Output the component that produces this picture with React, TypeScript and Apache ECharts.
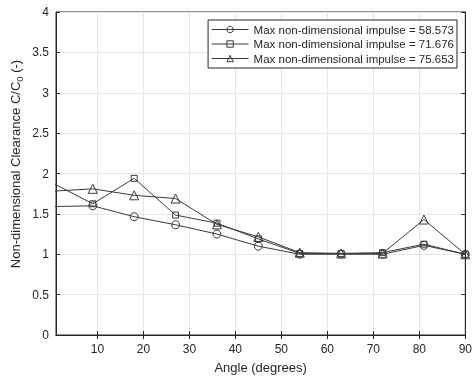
import { useEffect, useRef } from "react";
import * as echarts from "echarts";

const angles = [0, 9, 18, 27, 36, 45, 54, 63, 72, 81, 90];
const impulse58 = [1.59, 1.6, 1.465, 1.365, 1.25, 1.1, 1.0, 1.0, 1.0, 1.11, 1.0];
const impulse71 = [1.89, 1.625, 1.94, 1.485, 1.385, 1.19, 1.01, 1.01, 1.02, 1.125, 1.0];
const impulse75 = [1.78, 1.81, 1.73, 1.69, 1.37, 1.215, 1.02, 1.01, 1.01, 1.43, 1.0];
const seriesNames = [
  "Max non-dimensional impulse = 58.573",
  "Max non-dimensional impulse = 71.676",
  "Max non-dimensional impulse = 75.653",
];
const xTicks = [10, 20, 30, 40, 50, 60, 70, 80, 90];

const FONT = "'Liberation Sans', Arial, Helvetica, sans-serif";
const INK = "#262626";
const LINE = "#3a3a3a";

function pairs(ys: number[]) {
  return angles.map((x, i) => [x, ys[i]]);
}

export default function App() {
  const ref = useRef<HTMLDivElement>(null);

  useEffect(() => {
    if (!ref.current) return;
    const chart = echarts.init(ref.current, undefined, { renderer: "svg" });

    const mkSeries = (name: string, ys: number[], symbol: string, size: number) => ({
      name,
      type: "line",
      data: pairs(ys),
      xAxisIndex: 0,
      yAxisIndex: 0,
      clip: true,
      symbol,
      symbolSize: size,
      showAllSymbol: true,
      lineStyle: { color: LINE, width: 1 },
      itemStyle: { color: "rgba(255,255,255,0)", borderColor: LINE, borderWidth: 1 },
      emphasis: { disabled: true },
    });

    const triangle = "path://M0,-10 L8.66,5 L-8.66,5 Z";

    chart.setOption({
      animation: false,
      textStyle: { fontFamily: FONT, color: INK },
      grid: {
        left: 56,
        right: 8,
        top: 12,
        bottom: 48,
        show: true,
        borderColor: INK,
        borderWidth: 1,
        backgroundColor: "#fff",
      },
      legend: {
        show: true,
        right: 18,
        top: 20,
        orient: "vertical",
        backgroundColor: "#fff",
        borderColor: INK,
        borderWidth: 1,
        borderRadius: 0,
        padding: [3.5, 3, 3.5, 3],
        itemGap: 2.5,
        itemWidth: 37,
        itemHeight: 8,
        lineStyle: { width: 1, color: LINE },
        itemStyle: { borderWidth: 1, borderColor: LINE, color: "rgba(255,255,255,0)" },
        textStyle: { fontFamily: FONT, fontSize: 11.5, lineHeight: 12, color: INK },
        data: seriesNames,
      },
      graphic: [
        {
          type: "text",
          x: 15,
          y: 164,
          rotation: Math.PI / 2,
          style: {
            text: "{a|Non-dimensional Clearance C/C}{s|0}{a| (-)}",
            align: "center",
            verticalAlign: "middle",
            fill: INK,
            rich: {
              a: { fontSize: 13, fontFamily: FONT, fill: INK, lineHeight: 18, verticalAlign: "middle" },
              s: { fontSize: 9.5, fontFamily: FONT, fill: INK, lineHeight: 18, verticalAlign: "bottom", padding: [8, 0, 0, 0] },
            },
          },
        },
      ],
      xAxis: [
        {
          type: "value",
          min: 1,
          max: 90,
          position: "bottom",
          axisLine: { show: true, lineStyle: { color: INK, width: 1 } },
          axisTick: { show: true, inside: true, length: 4, customValues: xTicks, lineStyle: { color: INK } },
          axisLabel: { customValues: xTicks, color: INK, fontSize: 12, fontFamily: FONT, margin: 8 },
          splitLine: { show: true, lineStyle: { color: "#e5e5e5", width: 1 } },
          name: "Angle (degrees)",
          nameLocation: "middle",
          nameGap: 26,
          nameTextStyle: { fontSize: 13, color: INK, fontFamily: FONT },
        },
        {
          type: "value",
          min: 1,
          max: 90,
          position: "top",
          axisLine: { show: true, lineStyle: { color: INK, width: 1 } },
          axisTick: { show: true, inside: true, length: 4, customValues: xTicks, lineStyle: { color: INK } },
          axisLabel: { show: false },
          splitLine: { show: false },
        },
      ],
      yAxis: [
        {
          type: "value",
          min: 0,
          max: 4,
          interval: 0.5,
          position: "left",
          axisLine: { show: true, lineStyle: { color: INK, width: 1 } },
          axisTick: { show: true, inside: true, length: 4, lineStyle: { color: INK } },
          axisLabel: { color: INK, fontSize: 12, fontFamily: FONT, margin: 7 },
          splitLine: { show: true, lineStyle: { color: "#e5e5e5", width: 1 } },
        },
        {
          type: "value",
          min: 0,
          max: 4,
          interval: 0.5,
          position: "right",
          axisLine: { show: true, lineStyle: { color: INK, width: 1 } },
          axisTick: { show: true, inside: true, length: 4, lineStyle: { color: INK } },
          axisLabel: { show: false },
          splitLine: { show: false },
        },
      ],
      series: [
        mkSeries(seriesNames[0], impulse58, "circle", 8),
        mkSeries(seriesNames[1], impulse71, "rect", 6),
        mkSeries(seriesNames[2], impulse75, triangle, 9),
      ],
    });

    return () => chart.dispose();
  }, []);

  return (
    <div style={{ position: "fixed", left: 0, top: 0, width: 475, height: 383 }}>
      <div ref={ref} style={{ width: 475, height: 383 }} />
    </div>
  );
}
